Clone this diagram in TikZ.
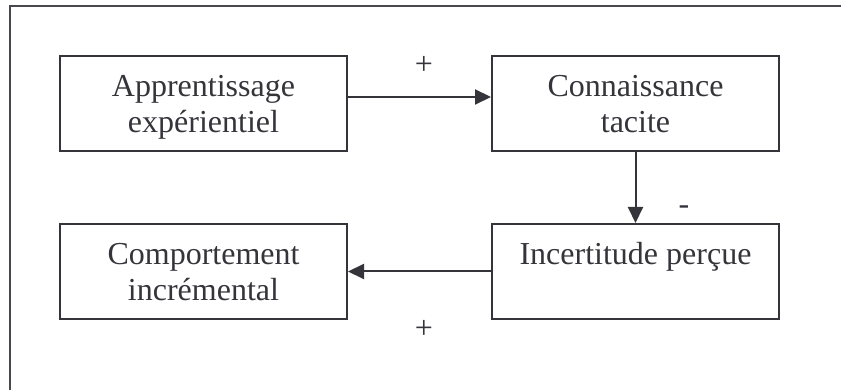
\documentclass[tikz,border=0pt]{standalone}
\usepackage{fontspec}
\setmainfont{Liberation Serif}
\usetikzlibrary{arrows.meta}
\definecolor{ink}{RGB}{52,52,58}
\tikzset{
  box/.style={draw=ink, line width=2pt, text=ink, minimum width=287pt, minimum height=95pt,
    align=center, text height=58pt, text depth=0pt, inner sep=0pt,
    font=\fontsize{32}{36}\selectfont},
  sign/.style={text=ink, inner sep=0pt, font=\fontsize{32}{36}\selectfont},
  link/.style={draw=ink, line width=2pt, -{Triangle[length=16pt,width=15pt]}}
}
\begin{document}
\begin{tikzpicture}[x=1pt,y=-1pt]
            \useasboundingbox (0,0) rectangle (841,390);
            \draw[draw=ink!90, line width=1.8pt] (850,6) -| (10,400);
            \node[box] (appr) at (203.5,104) {Apprentissage\\expérientiel};
            \node[box] (conn) at (635.5,104) {Connaissance\\tacite};
            \node[box] (comp) at (203.5,271.5) {Comportement\\incrémental};
            \node[box] (inc) at (635.5,271.5) {Incertitude perçue\\\mbox{}};
            \draw[link] ([yshift=7pt]appr.east) -- ([yshift=7pt]conn.west);
            \draw[link] (conn.south) -- (inc.north);
            \draw[link] (inc.west) -- (comp.east);
            \node[sign] (plustop) at (424,65) {+};
            \node[sign] (minus) at (684,210) {-};
            \node[sign] (plusbot) at (424,329) {+};
\end{tikzpicture}
\end{document}
